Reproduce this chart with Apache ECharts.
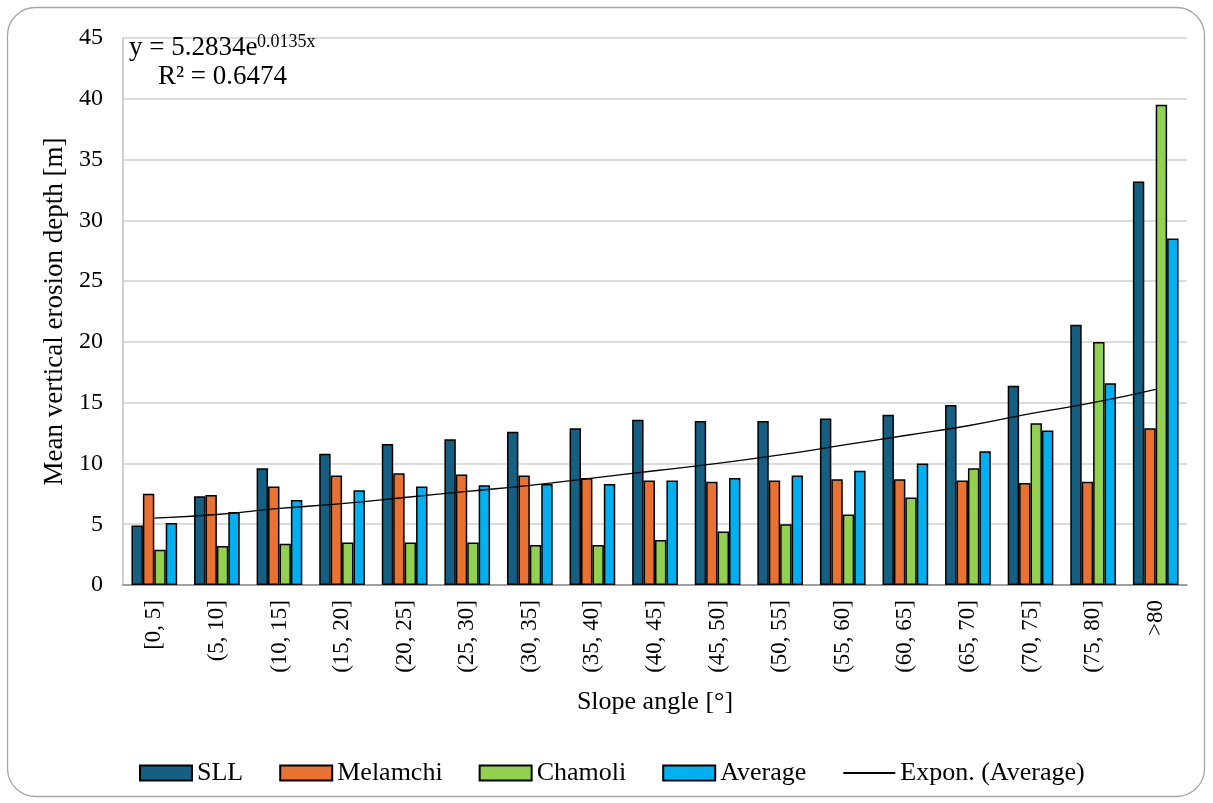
<!DOCTYPE html>
<html>
<head>
<meta charset="utf-8">
<title>Erosion depth vs slope angle</title>
<script src="https://cdn.jsdelivr.net/npm/echarts@6/dist/echarts.min.js"></script>
<style>
  html, body { margin: 0; padding: 0; background: #fff; }
  #chart { width: 1213px; height: 803px; }
</style>
</head>
<body>
<div id="chart"></div>
<script>
// slope classes on the x axis
const categories = ['[0, 5]', '(5, 10]', '(10, 15]', '(15, 20]', '(20, 25]', '(25, 30]',
  '(30, 35]', '(35, 40]', '(40, 45]', '(45, 50]', '(50, 55]', '(55, 60]', '(60, 65]',
  '(65, 70]', '(70, 75]', '(75, 80]', '>80']

// mean vertical erosion depth [m]
const sllData = [4.9, 7.3, 9.6, 10.8, 11.6, 12.0, 12.6, 12.9, 13.6, 13.5, 13.5, 13.7, 14.0, 14.8, 16.4, 21.4, 33.2]
const melamchiData = [7.5, 7.4, 8.1, 9.0, 9.2, 9.1, 9.0, 8.8, 8.6, 8.5, 8.6, 8.7, 8.7, 8.6, 8.4, 8.5, 12.9]
const chamoliData = [2.9, 3.2, 3.4, 3.5, 3.5, 3.5, 3.3, 3.3, 3.7, 4.4, 5.0, 5.8, 7.2, 9.6, 13.3, 20.0, 39.5]
const averageData = [5.1, 6.0, 7.0, 7.8, 8.1, 8.2, 8.3, 8.3, 8.6, 8.8, 9.0, 9.4, 10.0, 11.0, 12.7, 16.6, 28.5]
// exponential trendline of Average, read at each class centre
const trendData = [5.5, 5.8, 6.3, 6.7, 7.2, 7.7, 8.2, 8.8, 9.4, 10.0, 10.7, 11.5, 12.3, 13.1, 14.1, 15.0, 16.1]

const yTicks = { min: 0, max: 45, interval: 5 }

const serif = '"Liberation Serif", "Times New Roman", serif'

const chart = echarts.init(document.getElementById('chart'))

function barSeries(name, color, data) {
  return {
    name: name,
    type: 'bar',
    data: data,
    barGap: '0%',
    barCategoryGap: '27%',
    itemStyle: {
      color: color,
      borderColor: '#000',
      borderWidth: 1.5
    }
  }
}

chart.setOption({
  animation: false,
  textStyle: { fontFamily: serif, color: '#000' },
  grid: {
    left: 123,
    right: 26,
    top: 38,
    bottom: 218
  },
  legend: {
    left: 134,
    top: 755,
    itemWidth: 52,
    itemHeight: 15,
    itemGap: 36,
    textStyle: { fontFamily: serif, fontSize: 26, color: '#000' },
    data: [
      { name: 'SLL', icon: 'rect' },
      { name: 'Melamchi', icon: 'rect' },
      { name: 'Chamoli', icon: 'rect' },
      { name: 'Average', icon: 'rect' },
      // trendline entry: plain line, no marker
      { name: 'Expon. (Average)', itemStyle: { color: 'rgba(0,0,0,0)', borderWidth: 0, opacity: 0 } }
    ]
  },
  xAxis: {
    type: 'category',
    data: categories,
    name: 'Slope angle [°]',
    nameLocation: 'middle',
    nameGap: 104,
    nameTextStyle: { fontFamily: serif, fontSize: 26, color: '#000' },
    axisLine: { lineStyle: { color: '#8c8c8c', width: 1.5 } },
    axisTick: { show: false },
    axisLabel: {
      interval: 0,
      rotate: 90,
      margin: 15,
      fontFamily: serif,
      fontSize: 23,
      color: '#000'
    }
  },
  yAxis: {
    type: 'value',
    min: yTicks.min,
    max: yTicks.max,
    interval: yTicks.interval,
    name: 'Mean vertical erosion depth [m]',
    nameLocation: 'middle',
    nameGap: 53,
    nameTextStyle: { fontFamily: serif, fontSize: 27, color: '#000' },
    axisLine: { show: true, lineStyle: { color: '#bfbfbf', width: 1.5 } },
    axisTick: { show: false },
    splitLine: { lineStyle: { color: '#d0d0d0', width: 1.5 } },
    axisLabel: { margin: 20, fontFamily: serif, fontSize: 24, color: '#000' }
  },
  graphic: [
    {
      type: 'rect',
      shape: { x: 7.5, y: 7.5, width: 1197, height: 789, r: 28 },
      style: { fill: 'none', stroke: '#a6a6a6', lineWidth: 1.3 },
      silent: true
    },
    {
      type: 'text',
      left: 129,
      top: 34,
      z: 10,
      style: { text: 'y = 5.2834e', font: '27px ' + serif, fill: '#000' }
    },
    {
      type: 'text',
      left: 257,
      top: 33,
      z: 10,
      style: { text: '0.0135x', font: '18px ' + serif, fill: '#000' }
    },
    {
      type: 'text',
      left: 158,
      top: 63,
      z: 10,
      style: { text: 'R² = 0.6474', font: '27px ' + serif, fill: '#000' }
    }
  ],
  series: [
    barSeries('SLL', '#156082', sllData),
    barSeries('Melamchi', '#E97132', melamchiData),
    barSeries('Chamoli', '#92D050', chamoliData),
    barSeries('Average', '#00B0F0', averageData),
    {
      name: 'Expon. (Average)',
      type: 'line',
      data: trendData,
      smooth: true,
      symbol: 'none',
      z: 5,
      lineStyle: { color: '#000', width: 1.3 },
      itemStyle: { color: '#000' }
    }
  ]
})
</script>
</body>
</html>
